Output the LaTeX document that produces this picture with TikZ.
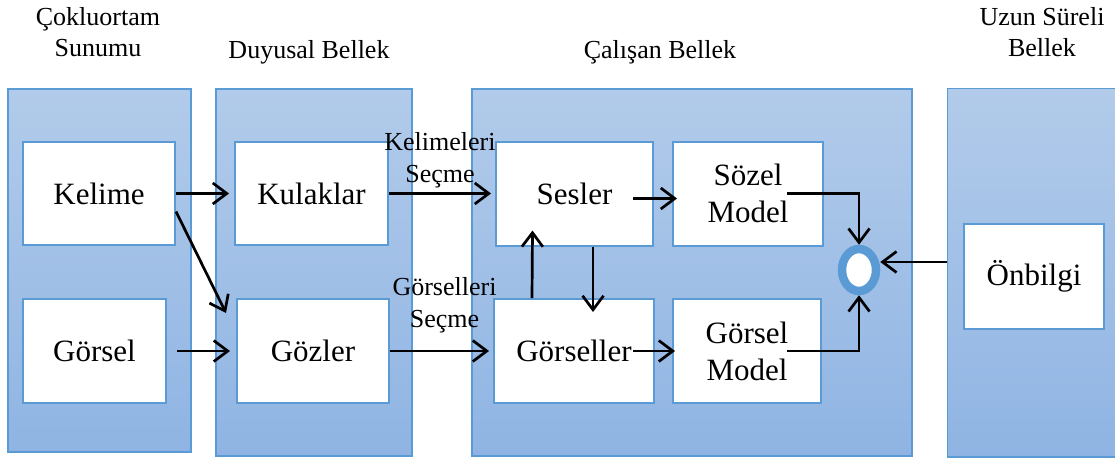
\documentclass[tikz,border=0pt]{standalone}
\usepackage{fontspec}
\setmainfont{Liberation Serif}
\usetikzlibrary{arrows.meta, positioning, calc, shapes.geometric}
\definecolor{panelblue}{RGB}{91,155,213}
\definecolor{paneltop}{RGB}{178,203,234}
\definecolor{panelbottom}{RGB}{143,180,227}

\tikzset{
  panel/.style={rectangle, draw=panelblue, line width=1.5pt, top color=paneltop, bottom color=panelbottom, inner sep=0pt},
  unit/.style={rectangle, draw=panelblue, line width=2pt, fill=white, inner sep=0pt, align=center, font=\fontsize{31}{37}\selectfont},
  title/.style={align=center, font=\fontsize{26}{31}\selectfont},
  note/.style={align=center, inner sep=0pt, font=\fontsize{26}{32}\selectfont},
  flow/.style={-{Straight Barb[length=14pt,width=21pt]}, line width=2.7pt}
}

\begin{document}
\begin{tikzpicture}[x=1pt, y=1pt]
  \useasboundingbox (0,0) rectangle (1115,459);

  \node[panel, minimum width=183pt, minimum height=363pt] (coklu) at (99.5,188.5) {};
  \node[panel, minimum width=196pt, minimum height=367pt] (duyusal) at (314,186.5) {};
  \node[panel, minimum width=440pt, minimum height=367pt] (calisan) at (692,186.5) {};
  \node[panel, draw=none, minimum width=168pt, minimum height=367pt] (uzun) at (1032,186.5) {};
  \draw[draw=panelblue, line width=1.5pt] (uzun.north east) -- (uzun.north west) -- (uzun.south west) -- (uzun.south east);

  \node[title] (t1) at (98,427) {Çokluortam\\Sunumu};
  \node[title] (t2) at (309,407) {Duyusal Bellek};
  \node[title] (t3) at (660,407) {Çalışan Bellek};
  \node[title] (t4) at (1042,427) {Uzun Süreli\\Bellek};

  \node[unit, minimum width=152pt, minimum height=103pt] (kelime) at (99,265.5) {Kelime};
  \node[unit, minimum width=143pt, minimum height=104pt] (gorsel) at (94.5,108) {Görsel};
  \node[unit, minimum width=153pt, minimum height=103pt] (kulaklar) at (311.5,265.5) {Kulaklar};
  \node[unit, minimum width=152pt, minimum height=104pt] (gozler) at (313,108) {Gözler};
  \node[unit, minimum width=157pt, minimum height=104pt] (sesler) at (574.5,265.5) {Sesler};
  \node[unit, minimum width=160pt, minimum height=104pt] (gorseller) at (574,108) {Görseller};
  \node[unit, minimum width=150pt, minimum height=104pt] (sozel) at (748,265.5) {Sözel\\Model};
  \node[unit, minimum width=148pt, minimum height=104pt] (gorselmodel) at (747,108) {Görsel\\Model};
  \node[unit, minimum width=140pt, minimum height=105pt] (onbilgi) at (1034,182.5) {Önbilgi};

  \node[ellipse, draw=panelblue, line width=8.5pt, fill=white, minimum width=34pt, minimum height=42pt, inner sep=0pt] (merge) at (859,189) {};

  \draw[flow] (kelime.east) -- ([xshift=-5pt]kulaklar.west);
  \draw[flow] ([yshift=-18pt]kelime.east) -- ([xshift=-10pt,yshift=-15pt]gozler.north west);
  \draw[flow] ([xshift=10pt]gorsel.east) -- ([xshift=-6pt]gozler.west);
  \draw[flow] (kulaklar.east) -- node[note, above=4pt]{Kelimeleri\\Seçme} ([xshift=-4pt]sesler.west);
  \draw[flow] (gozler.east) -- node[note, above=17pt, xshift=5pt]{Görselleri\\Seçme} ([xshift=-4pt]gorseller.west);
  \draw[flow] ([xshift=-42pt]gorseller.north) -- ([xshift=-42pt,yshift=16pt]sesler.south);
  \draw[flow] ([xshift=18.5pt]sesler.south) -- ([xshift=19pt,yshift=-14pt]gorseller.north);
  \draw[flow] ([xshift=-21pt,yshift=-5pt]sesler.east) -- ([xshift=5pt,yshift=-5pt]sozel.west);
  \draw[flow] ([xshift=-22pt]gorseller.east) -- ([xshift=3pt]gorselmodel.west);
  \draw[flow] ([xshift=-37pt]sozel.east) -| (merge.north);
  \draw[flow] ([xshift=-35pt]gorselmodel.east) -| (merge.south);
  \draw[flow] ([yshift=10.5pt]uzun.west) -- ([yshift=8pt]merge.east);
\end{tikzpicture}
\end{document}
